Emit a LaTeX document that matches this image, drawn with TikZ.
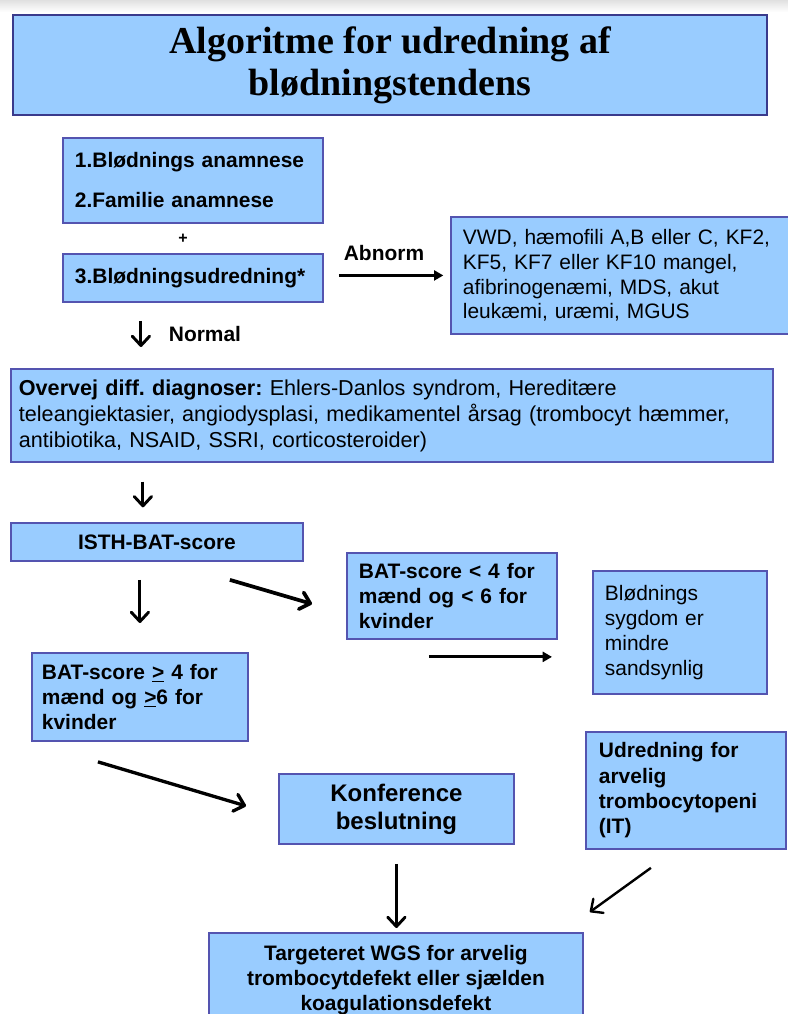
\documentclass[tikz,border=0pt]{standalone}
\usepackage{fontspec}
\setmainfont{Liberation Sans}
\newfontfamily\titlefont{Liberation Serif}
\usetikzlibrary{arrows.meta,calc}
\definecolor{boxblue}{RGB}{153,204,255}
\definecolor{boxline}{RGB}{84,84,176}
\definecolor{titleline}{RGB}{58,58,140}
\frenchspacing
\begin{document}
\begin{tikzpicture}[x=.75pt,y=-.75pt,box/.style={draw=boxline,line width=1.4pt,fill=boxblue,anchor=north west,inner ysep=0pt,font=\fontsize{15.7}{18.6}\selectfont},lbox/.style={box,align=left},cbox/.style={box,align=center,font=\bfseries\fontsize{15.7}{18.8}\selectfont},lbl/.style={font=\bfseries\fontsize{15.7}{18.8}\selectfont},arr/.style={-{Straight Barb[length=7pt,width=13pt,line cap=round,line join=round]},line width=2.2pt},harr/.style={-{Triangle[length=7pt,width=7.5pt]},line width=2.2pt}]
\useasboundingbox (0,0) rectangle (788,1014);
\shade[top color=black!12,bottom color=white] (0,0) rectangle (788,12);
\node[cbox,draw=titleline,line width=1.8pt,minimum width=565.5pt,minimum height=75pt,font=\titlefont\bfseries\fontsize{28.5}{32}\selectfont] (title) at (12,14) {Algoritme for udredning af\\blødningstendens};
\node[lbox,minimum width=195pt,minimum height=63.75pt,inner xsep=9pt,text width=177pt,font=\bfseries\fontsize{15.7}{19}\selectfont] (anam) at (62,137) {1.Blødnings anamnese\\[11pt]2.Familie anamnese};
\node[lbl,font=\bfseries\fontsize{12}{12}\selectfont] (plus) at (183,239) {+};
\node[lbox,minimum width=195pt,minimum height=36pt,inner xsep=9pt,text width=177pt,font=\bfseries\fontsize{15.7}{19}\selectfont] (udr3) at (62,253) {3.Blødningsudredning*};
\node[lbox,minimum width=255pt,minimum height=87.75pt,inner xsep=9pt,text width=237pt] (vwd) at (450,216) {VWD, hæmofili A,B eller C, KF2,\\KF5, KF7 eller KF10 mangel,\\afibrinogenæmi, MDS, akut\\leukæmi, uræmi, MGUS};
\node[lbl] (abn) at (384,253) {Abnorm};
\node[lbl] (nrm) at (205,334) {Normal};
\node[lbox,minimum width=571.5pt,minimum height=69.75pt,inner xsep=6pt,text width=559.5pt,font=\fontsize{16.2}{19.5}\selectfont] (diff) at (10,368) {\textbf{Overvej diff. diagnoser:} Ehlers-Danlos syndrom, Hereditære\\teleangiektasier, angiodysplasi, medikamentel årsag (trombocyt hæmmer,\\antibiotika, NSAID, SSRI, corticosteroider)};
\node[cbox,minimum width=219pt,minimum height=28.5pt] (isth) at (10,522) {ISTH-BAT-score};
\node[lbox,minimum width=157.5pt,minimum height=64.5pt,inner xsep=9pt,text width=139.5pt,font=\bfseries\fontsize{15.7}{18.75}\selectfont] (lt) at (346,552) {BAT-score < 4 for\\mænd og < 6 for\\kvinder};
\node[lbox,minimum width=130.5pt,minimum height=92.25pt,inner xsep=9pt,text width=112.5pt,font=\fontsize{15.7}{18.75}\selectfont] (blod) at (592,570) {Blødnings\\sygdom er\\mindre\\sandsynlig};
\node[lbox,minimum width=162pt,minimum height=66pt,inner xsep=7.5pt,text width=147pt,font=\bfseries\fontsize{15.7}{18.75}\selectfont] (ge) at (31,652) {BAT-score \underline{>} 4 for\\mænd og \underline{>}6 for\\kvinder};
\node[cbox,minimum width=176.25pt,minimum height=52.5pt,font=\bfseries\fontsize{18}{21}\selectfont] (konf) at (278,773) {Konference\\beslutning};
\node[lbox,minimum width=150pt,minimum height=87.75pt,inner xsep=9.75pt,text width=130.5pt,font=\bfseries\fontsize{15.7}{19}\selectfont] (udr) at (585,731) {Udredning for\\arvelig\\trombocytopeni\\(IT)};
\node[cbox,minimum width=280.5pt,minimum height=70.5pt] (targ) at (208,932) {Targeteret WGS for arvelig\\trombocytdefekt eller sjælden\\koagulationsdefekt};
\coordinate (nrmx) at ([xshift=-39pt]udr3.south);
\coordinate (dn) at ([xshift=-10.5pt]isth.north);
\coordinate (ltout) at ([xshift=-17.25pt,yshift=-12.75pt]lt.south);
\draw[harr,shorten <=11.25pt,shorten >=5pt] (udr3.east |- vwd.west) -- (vwd.west);
\draw[arr,shorten <=13.5pt,shorten >=15.75pt] (nrmx) -- (nrmx |- diff.north);
\draw[arr,shorten <=14pt,shorten >=11pt] (dn |- diff.south) -- (dn);
\draw[arr,shorten <=13.5pt,shorten >=21.75pt] (isth.south -| ge.north) -- (ge.north);
\draw[arr,line width=2.8pt] ([xshift=-55.5pt,yshift=-13.5pt]isth.south east) -- ([xshift=-25.5pt,yshift=-6pt]lt.west);
\draw[harr,shorten >=30pt] (ltout) -- (ltout -| blod.west);
\draw[arr,line width=2.5pt] ([xshift=-31.5pt,yshift=-15pt]ge.south) -- ([xshift=-24pt,yshift=2.25pt]konf.west);
\draw[arr,shorten <=14.25pt,shorten >=3pt] (konf.south) -- (konf.south |- targ.north);
\draw[arr,line width=1.8pt] ([xshift=-26.25pt,yshift=-13.5pt]udr.south) -- ([xshift=4.5pt,yshift=15pt]targ.north east);
\end{tikzpicture}
\end{document}
